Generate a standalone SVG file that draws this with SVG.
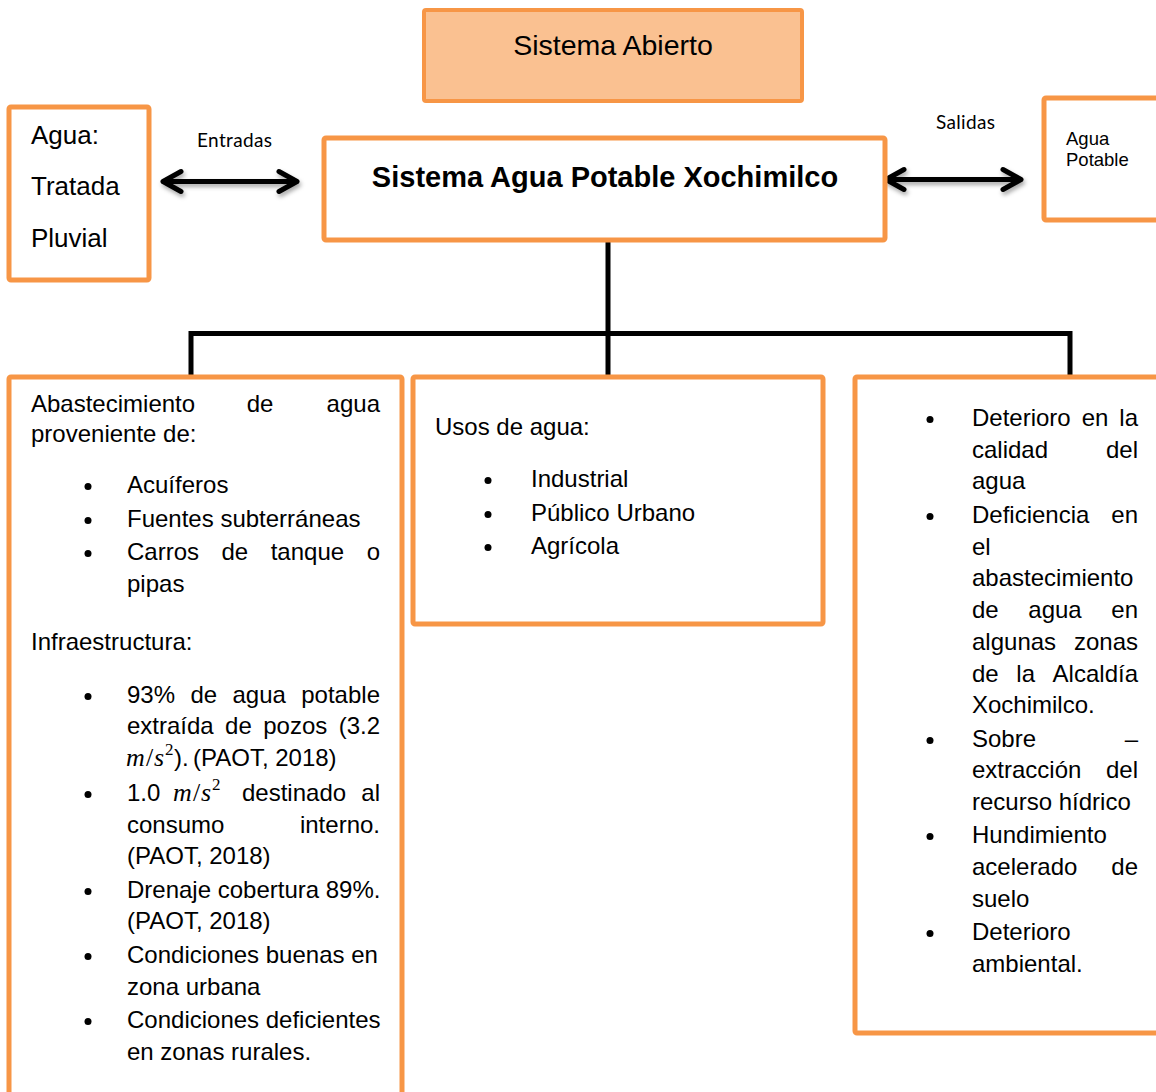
<svg xmlns="http://www.w3.org/2000/svg" width="1156" height="1092" viewBox="0 0 1156 1092">
<style>
.box{fill:#fff;stroke:#F79646;stroke-width:5}
.t{font-family:"Liberation Sans",Arial,sans-serif;font-size:24px;fill:#000}
.r{text-anchor:end}
.m{font-family:"Liberation Serif","Times New Roman",serif;font-style:italic;font-size:26px}
.sl{font-family:"Liberation Serif","Times New Roman",serif;font-size:26px}
.sup{font-family:"Liberation Serif","Times New Roman",serif;font-size:17px}
.cal{font-family:Lato,"Open Sans",sans-serif;font-size:19px;fill:#000}
.ln{stroke:#000;stroke-width:5;fill:none}
.arr{stroke:#000;stroke-width:5;fill:none;stroke-linecap:round;stroke-linejoin:round}
</style>
<defs>
<filter id="sh" x="-20%" y="-50%" width="140%" height="200%">
<feDropShadow dx="1.5" dy="3" stdDeviation="2" flood-color="#000" flood-opacity="0.35"/>
</filter>
</defs>
<rect width="1156" height="1092" fill="#fff"/>

<g id="connectors">
<line class="ln" x1="608" y1="99" x2="608" y2="136" filter="url(#sh)"/>
<line class="ln" x1="608" y1="242" x2="608" y2="333"/>
<polyline class="ln" points="191,376 191,333.5 1070,333.5 1070,376"/>
<line class="ln" x1="608" y1="333" x2="608" y2="376"/>
<g filter="url(#sh)">
<path class="arr" d="M163,181.5 H297 M181,171.5 L163,181.5 L181,191.5 M279,171.5 L297,181.5 L279,191.5"/>
<path class="arr" d="M886,179.5 H1021 M904,169.5 L886,179.5 L904,189.5 M1003,169.5 L1021,179.5 L1003,189.5"/>
</g>
<text class="cal" x="197" y="147" textLength="75">Entradas</text>
<text class="cal" x="936" y="129" textLength="59">Salidas</text>
</g>

<g id="sistema-abierto">
<rect x="424" y="10" width="378" height="91" rx="2" fill="#FAC191" stroke="#F79646" stroke-width="4"/>
<text class="t" x="613" y="55" text-anchor="middle" style="font-size:28.5px">Sistema Abierto</text>
</g>

<g id="sistema-agua">
<rect class="box" x="324" y="138" width="561" height="102" rx="2"/>
<text class="t" x="605" y="187" text-anchor="middle" style="font-size:29px;font-weight:bold">Sistema Agua Potable Xochimilco</text>
</g>

<g id="entradas-agua">
<rect class="box" x="9" y="107" width="140" height="173" rx="2"/>
<text class="t" x="31" y="144" style="font-size:26px">Agua:</text>
<text class="t" x="31" y="195" style="font-size:26px">Tratada</text>
<text class="t" x="31" y="247" style="font-size:26px">Pluvial</text>
</g>

<g id="salidas-agua">
<rect class="box" x="1044" y="98" width="140" height="122" rx="2"/>
<text class="t" x="1066" y="145" style="font-size:18.5px">Agua</text>
<text class="t" x="1066" y="166" style="font-size:18.5px">Potable</text>
</g>

<g id="abastecimiento">
<rect class="box" x="9" y="377" width="393" height="740" rx="2"/>
<text class="t" x="31" y="412">Abastecimiento</text>
<text class="t" x="260" y="412" text-anchor="middle">de</text>
<text class="t r" x="380" y="412">agua</text>
<text class="t" x="31" y="442">proveniente de:</text>
<g fill="#000">
<circle cx="88" cy="486.5" r="3.5"/><circle cx="88" cy="520.5" r="3.5"/><circle cx="88" cy="553.5" r="3.5"/>
<circle cx="88" cy="696.5" r="3.5"/><circle cx="88" cy="794.5" r="3.5"/><circle cx="88" cy="891.5" r="3.5"/>
<circle cx="88" cy="956.5" r="3.5"/><circle cx="88" cy="1021.5" r="3.5"/>
</g>
<text class="t" x="127" y="493">Acuíferos</text>
<text class="t" x="127" y="527">Fuentes subterráneas</text>
<text class="t" x="127" y="560">Carros</text>
<text class="t" x="221.5" y="560">de</text>
<text class="t" x="270.7" y="560">tanque</text>
<text class="t r" x="380" y="560">o</text>
<text class="t" x="127" y="592">pipas</text>
<text class="t" x="31" y="650">Infraestructura:</text>
<text class="t" x="127" y="703">93%</text>
<text class="t" x="190.4" y="703">de</text>
<text class="t" x="232.5" y="703">agua</text>
<text class="t r" x="380" y="703">potable</text>
<text class="t" x="127" y="734">extraída</text>
<text class="t" x="225.1" y="734">de</text>
<text class="t" x="263.2" y="734">pozos</text>
<text class="t r" x="380" y="734">(3.2</text>
<text class="m" x="126" y="766">m</text>
<text class="sl" x="146" y="766">/</text>
<text class="m" x="154" y="766">s</text>
<text class="sup" x="165" y="755">2</text>
<text class="t" x="174" y="766">).</text>
<text class="t" x="193" y="766">(PAOT, 2018)</text>
<text class="t" x="127" y="801">1.0</text>
<text class="m" x="173" y="801">m</text>
<text class="sl" x="193" y="801">/</text>
<text class="m" x="201" y="801">s</text>
<text class="sup" x="212" y="790">2</text>
<text class="t" x="242" y="801">destinado</text>
<text class="t r" x="380" y="801">al</text>
<text class="t" x="127" y="833">consumo</text>
<text class="t r" x="380" y="833">interno.</text>
<text class="t" x="127" y="864">(PAOT, 2018)</text>
<text class="t" x="127" y="898">Drenaje cobertura 89%.</text>
<text class="t" x="127" y="929">(PAOT, 2018)</text>
<text class="t" x="127" y="963">Condiciones buenas en</text>
<text class="t" x="127" y="995">zona urbana</text>
<text class="t" x="127" y="1028">Condiciones deficientes</text>
<text class="t" x="127" y="1060">en zonas rurales.</text>
</g>

<g id="usos">
<rect class="box" x="413" y="377" width="410" height="247" rx="2"/>
<text class="t" x="435" y="435">Usos de agua:</text>
<g fill="#000">
<circle cx="488" cy="480.5" r="3.5"/><circle cx="488" cy="514.5" r="3.5"/><circle cx="488" cy="547.5" r="3.5"/>
</g>
<text class="t" x="531" y="487">Industrial</text>
<text class="t" x="531" y="521">Público Urbano</text>
<text class="t" x="531" y="554">Agrícola</text>
</g>

<g id="problemas">
<rect class="box" x="855" y="377" width="320" height="656" rx="2"/>
<g fill="#000">
<circle cx="930" cy="419.5" r="3.5"/><circle cx="930" cy="516.5" r="3.5"/><circle cx="930" cy="740.5" r="3.5"/>
<circle cx="930" cy="836.5" r="3.5"/><circle cx="930" cy="933.5" r="3.5"/>
</g>
<text class="t" x="972" y="426">Deterioro</text>
<text class="t" x="1081.7" y="426">en</text>
<text class="t r" x="1138" y="426">la</text>
<text class="t" x="972" y="458">calidad</text>
<text class="t r" x="1138" y="458">del</text>
<text class="t" x="972" y="489">agua</text>
<text class="t" x="972" y="523">Deficiencia</text>
<text class="t r" x="1138" y="523">en</text>
<text class="t" x="972" y="555">el</text>
<text class="t" x="972" y="586">abastecimiento</text>
<text class="t" x="972" y="618">de</text>
<text class="t" x="1028.3" y="618">agua</text>
<text class="t r" x="1138" y="618">en</text>
<text class="t" x="972" y="650">algunas</text>
<text class="t r" x="1138" y="650">zonas</text>
<text class="t" x="972" y="682">de</text>
<text class="t" x="1016.3" y="682">la</text>
<text class="t r" x="1138" y="682">Alcaldía</text>
<text class="t" x="972" y="713">Xochimilco.</text>
<text class="t" x="972" y="747">Sobre</text>
<text class="t r" x="1138" y="747">–</text>
<text class="t" x="972" y="778">extracción</text>
<text class="t r" x="1138" y="778">del</text>
<text class="t" x="972" y="810">recurso hídrico</text>
<text class="t" x="972" y="843">Hundimiento</text>
<text class="t" x="972" y="875">acelerado</text>
<text class="t r" x="1138" y="875">de</text>
<text class="t" x="972" y="907">suelo</text>
<text class="t" x="972" y="940">Deterioro</text>
<text class="t" x="972" y="972">ambiental.</text>
</g>
</svg>
